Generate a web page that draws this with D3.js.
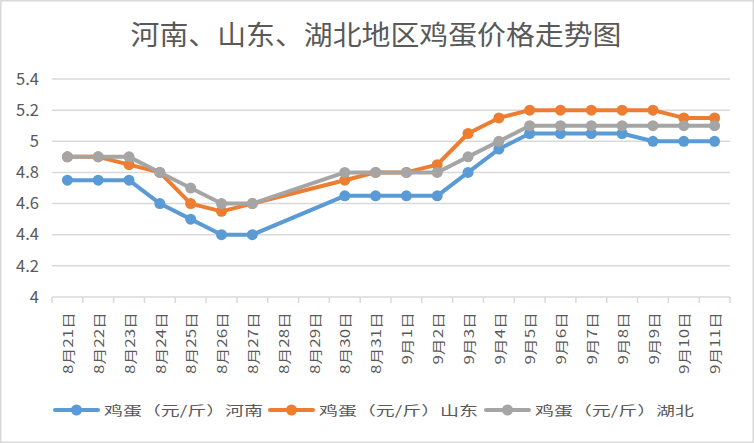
<!DOCTYPE html>
<html><head><meta charset="utf-8">
<script src="https://cdn.jsdelivr.net/npm/d3@7"></script>
<style>body{margin:0;background:#fff}svg{display:block}</style>
</head><body><svg id="c" width="754" height="443"></svg>
<script>
const title = "河南、山东、湖北地区鸡蛋价格走势图";
const categories = ["8月21日","8月22日","8月23日","8月24日","8月25日","8月26日","8月27日","8月28日","8月29日","8月30日","8月31日","9月1日","9月2日","9月3日","9月4日","9月5日","9月6日","9月7日","9月8日","9月9日","9月10日","9月11日"];
const henan = [4.75,4.75,4.75,4.6,4.5,4.4,4.4,null,null,4.65,4.65,4.65,4.65,4.8,4.95,5.05,5.05,5.05,5.05,5.0,5.0,5.0];
const shandong = [4.9,4.9,4.85,4.8,4.6,4.55,4.6,null,null,4.75,4.8,4.8,4.85,5.05,5.15,5.2,5.2,5.2,5.2,5.2,5.15,5.15];
const hubei = [4.9,4.9,4.9,4.8,4.7,4.6,4.6,null,null,4.8,4.8,4.8,4.8,4.9,5.0,5.1,5.1,5.1,5.1,5.1,5.1,5.1];
const seriesNames = ["鸡蛋（元/斤）河南","鸡蛋（元/斤）山东","鸡蛋（元/斤）湖北"];
const yTicks = [4,4.2,4.4,4.6,4.8,5,5.2,5.4];
const colors = ["#5b9bd5","#ed7d31","#a5a5a5"];

(function(){
const svg = d3.select("#c");
const W = 754, H = 443;
const pL = 52, pR = 730, pT = 79, pB = 297;
const font = "'Noto Sans CJK SC','Noto Sans',sans-serif";

svg.append("rect").attr("x",0.75).attr("y",0.75).attr("width",W-1.5).attr("height",H-1.5)
  .attr("fill","#fff").attr("stroke","#d9d9d9").attr("stroke-width",1.5);

svg.append("text").attr("x",376).attr("y",45).attr("text-anchor","middle")
  .attr("font-family",font).attr("font-size",27).attr("fill","#595959")
  .attr("textLength",491).attr("lengthAdjust","spacingAndGlyphs").text(title);

const x = d3.scaleBand().domain(categories).range([pL,pR]);
const y = d3.scaleLinear().domain([4,5.4]).range([pB,pT]);

svg.append("g").selectAll("line").data(yTicks.slice(1)).join("line")
  .attr("x1",pL).attr("x2",pR).attr("y1",d=>y(d)).attr("y2",d=>y(d))
  .attr("stroke","#d9d9d9").attr("stroke-width",1.5);

const yAxis = d3.axisLeft(y).tickValues(yTicks).tickSize(0).tickPadding(13).tickFormat(d=>String(d));
const yg = svg.append("g").attr("transform",`translate(${pL},0)`).call(yAxis);
yg.select(".domain").remove();
yg.selectAll("text").attr("font-family",font).attr("font-size",16.5).attr("fill","#595959");

const xAxis = d3.axisBottom(x).tickSize(0).tickPadding(0);
const xg = svg.append("g").attr("transform",`translate(0,${pB})`).call(xAxis);
xg.select(".domain").attr("stroke","#d9d9d9").attr("stroke-width",1.5).attr("d",`M${pL},0H${pR}`);
const bounds = categories.map(c=>x(c)).concat([pR]);
xg.selectAll(".bt").data(bounds).join("line").attr("class","bt")
  .attr("x1",d=>d).attr("x2",d=>d).attr("y1",0).attr("y2",6)
  .attr("stroke","#d9d9d9").attr("stroke-width",1.5);
xg.selectAll(".tick text")
  .attr("font-family",font).attr("font-size",13).attr("fill","#595959")
  .attr("text-anchor","end").attr("dy","0.36em")
  .attr("transform","translate(1,15) rotate(-90)")
  .each(function(){
    const L = this.getComputedTextLength();
    d3.select(this).attr("textLength",L*1.3).attr("lengthAdjust","spacingAndGlyphs");
  });

const allSeries = [henan, shandong, hubei];
const line = d3.line().x(d=>x(d.c)+x.bandwidth()/2).y(d=>y(d.v));
allSeries.forEach((s,i)=>{
  const pts = s.map((v,j)=>({c:categories[j],v})).filter(d=>d.v!=null);
  svg.append("path").datum(pts).attr("d",line).attr("fill","none")
    .attr("stroke",colors[i]).attr("stroke-width",4).attr("stroke-linejoin","round").attr("stroke-linecap","round");
  svg.append("g").selectAll("circle").data(pts).join("circle")
    .attr("cx",d=>x(d.c)+x.bandwidth()/2).attr("cy",d=>y(d.v)).attr("r",5.5)
    .attr("fill",colors[i]);
});

const legX = [55,270,486];
seriesNames.forEach((n,i)=>{
  const g = svg.append("g").attr("transform",`translate(${legX[i]},410)`);
  g.append("line").attr("x1",0).attr("x2",43).attr("stroke",colors[i]).attr("stroke-width",4).attr("stroke-linecap","round");
  g.append("circle").attr("cx",21.5).attr("r",5.5).attr("fill",colors[i]);
  g.append("text").attr("x",49).attr("dy","0.36em").attr("font-family",font).attr("font-size",13)
    .attr("fill","#595959").attr("textLength",159).attr("lengthAdjust","spacingAndGlyphs").text(n);
});
})();
</script></body></html>
